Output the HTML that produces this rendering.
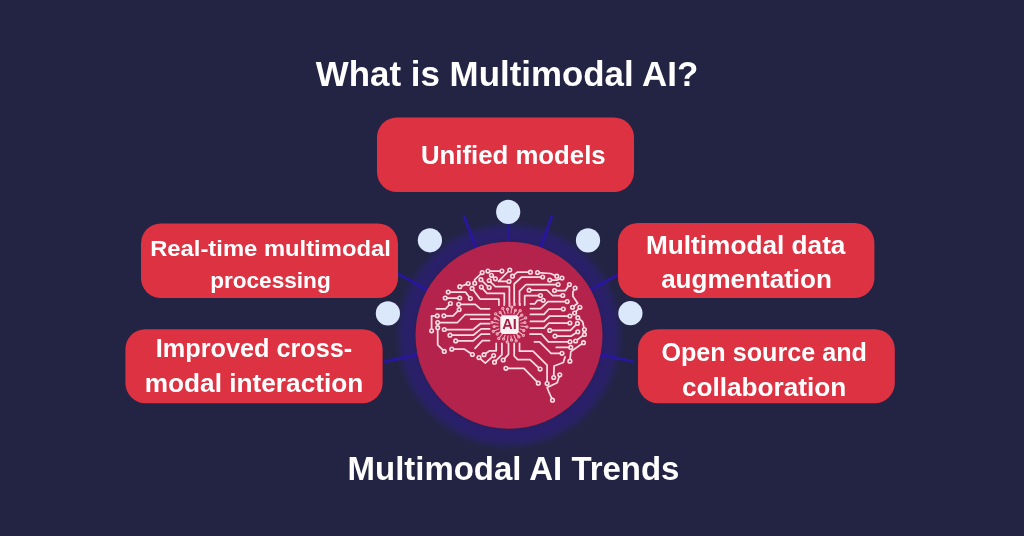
<!DOCTYPE html>
<html><head><meta charset="utf-8"><style>
html,body{margin:0;padding:0;background:#232444;width:1024px;height:536px;overflow:hidden}
svg{display:block;filter:blur(0.35px)}
text{font-family:"Liberation Sans",sans-serif;font-weight:bold}
</style></head><body>
<svg width="1024" height="536" viewBox="0 0 1024 536">
<rect width="1024" height="536" fill="#232444"/>
<defs><radialGradient id="halo" cx="509" cy="335.3" r="115" gradientUnits="userSpaceOnUse"><stop offset="0.81" stop-color="#28205c"/><stop offset="0.85" stop-color="#2a1f6b"/><stop offset="0.92" stop-color="#292166"/><stop offset="1" stop-color="#232444"/></radialGradient></defs>
<circle cx="509" cy="335.3" r="115" fill="url(#halo)"/>
<line x1="421.0" y1="354.0" x2="384.3" y2="361.8" stroke="#2916a0" stroke-width="3.1" stroke-opacity="0.95"/>
<line x1="430.3" y1="291.7" x2="397.5" y2="273.5" stroke="#2916a0" stroke-width="3.1" stroke-opacity="0.95"/>
<line x1="477.2" y1="251.1" x2="463.9" y2="216.0" stroke="#2916a0" stroke-width="3.1" stroke-opacity="0.95"/>
<line x1="539.5" y1="250.6" x2="552.2" y2="215.3" stroke="#2916a0" stroke-width="3.1" stroke-opacity="0.95"/>
<line x1="587.6" y1="291.5" x2="620.4" y2="273.3" stroke="#2916a0" stroke-width="3.1" stroke-opacity="0.95"/>
<line x1="597.1" y1="353.9" x2="633.8" y2="361.6" stroke="#2916a0" stroke-width="3.1" stroke-opacity="0.95"/>
<line x1="509" y1="245.3" x2="509" y2="223.3" stroke="#2916a0" stroke-width="2.2" stroke-opacity="0.8"/>
<rect x="377" y="117.5" width="257.0" height="74.5" rx="20" fill="#dc3242"/>
<rect x="141" y="223.4" width="257.0" height="74.7" rx="20" fill="#dc3242"/>
<rect x="125.4" y="329.2" width="257.2" height="74.0" rx="20" fill="#dc3242"/>
<rect x="618" y="223" width="256.4" height="75.1" rx="20" fill="#dc3242"/>
<rect x="638" y="329.2" width="256.8" height="74.0" rx="20" fill="#dc3242"/>
<circle cx="429.9" cy="240.3" r="12.1" fill="#dbe7fb"/>
<circle cx="387.9" cy="313.4" r="12.1" fill="#dbe7fb"/>
<circle cx="508.2" cy="211.9" r="12.1" fill="#dbe7fb"/>
<circle cx="588.0" cy="240.4" r="12.1" fill="#dbe7fb"/>
<circle cx="630.4" cy="313.2" r="12.1" fill="#dbe7fb"/>
<circle cx="509" cy="335.3" r="93.5" fill="#b4234b"/>
<g fill="none" stroke="#f9dde3" stroke-width="1.75" stroke-linejoin="round" stroke-linecap="round">
<polyline points="487.9,271.1 501.9,271.1"/>
<polyline points="509.8,270.0 498.4,281.4 509.0,281.4"/>
<polyline points="482.2,272.6 474.7,279.7 474.7,283.2"/>
<polyline points="491.4,275.3 495.4,278.8"/>
<polyline points="480.9,279.7 489.2,287.6"/>
<polyline points="489.2,280.5 495.4,286.7 509.4,286.7 509.4,306.0"/>
<polyline points="468.2,283.6 459.8,286.7"/>
<polyline points="472.1,288.4 480.0,299.0 498.9,299.0 498.9,305.0"/>
<polyline points="481.3,287.1 487.0,293.3 504.3,293.3 504.3,305.0"/>
<polyline points="448.2,292.1 465.5,292.1 470.4,298.5"/>
<polyline points="445.2,298.0 459.7,298.0"/>
<polyline points="450.4,303.5 445.6,308.8 436.4,308.8"/>
<polyline points="458.7,304.3 475.3,304.3 480.4,308.8 489.6,308.8"/>
<polyline points="459.2,309.6 453.1,315.8 443.9,315.8"/>
<polyline points="437.3,315.8 431.6,315.8 431.6,330.8"/>
<polyline points="437.7,322.5 457.5,322.5 465.2,314.5 489.6,314.5"/>
<polyline points="470.6,319.2 489.6,319.2"/>
<polyline points="437.7,327.7 437.7,344.8 444.3,351.4"/>
<polyline points="444.3,329.5 473.2,329.5 480.3,323.7 489.6,323.7"/>
<polyline points="450.0,335.2 473.2,335.2 481.1,328.9 489.6,328.9"/>
<polyline points="455.7,340.9 473.2,340.9 481.1,334.2 489.6,334.2"/>
<polyline points="475.0,348.3 482.3,340.6 489.6,340.6"/>
<polyline points="451.8,349.2 464.5,349.2 472.4,354.5"/>
<polyline points="479.0,357.6 485.3,363.1 493.6,355.6"/>
<polyline points="484.0,354.7 489.6,350.8 496.2,350.8 496.2,343.3"/>
<polyline points="494.5,362.2 501.9,354.7 501.9,343.3"/>
<polyline points="503.2,360.0 508.5,354.3 508.5,343.3"/>
<polyline points="514.2,343.3 514.2,356.0 517.7,359.6 530.0,359.6 540.1,369.1"/>
<polyline points="519.5,343.3 519.5,351.2 533.0,351.2 547.1,365.2 547.1,383.6"/>
<polyline points="505.9,368.3 523.9,368.3 538.3,383.2"/>
<polyline points="559.8,374.8 557.2,382.7 547.1,387.5 548.9,392.0 552.5,400.2"/>
<polyline points="565.1,356.8 563.3,362.5 554.1,366.0 553.7,377.5"/>
<polyline points="583.5,342.7 570.8,351.6 569.9,361.2"/>
<polyline points="534.4,341.8 539.6,341.8 551.1,353.3 562.0,353.3"/>
<polyline points="556.3,347.4 570.8,347.4"/>
<polyline points="575.6,341.0 584.4,334.4"/>
<polyline points="577.8,317.7 582.6,321.7 584.4,329.6"/>
<polyline points="530.0,334.0 541.4,334.0 548.4,341.8 570.0,341.8"/>
<polyline points="555.0,336.1 571.2,336.1 577.8,331.8"/>
<polyline points="549.7,330.4 570.4,330.4 577.4,323.4"/>
<polyline points="530.4,328.2 544.0,328.2 548.9,323.0 569.9,323.0"/>
<polyline points="530.4,321.4 544.0,321.4 549.7,316.0 569.9,316.0"/>
<polyline points="530.4,314.4 544.0,314.4 548.9,309.0 563.3,309.0"/>
<polyline points="530.4,308.6 540.5,308.6 547.9,301.6 567.2,301.6"/>
<polyline points="579.9,307.3 574.6,313.0"/>
<polyline points="575.1,288.0 572.9,291.9 572.9,296.3 577.7,303.3 572.5,307.3"/>
<polyline points="554.5,290.6 565.4,290.6 569.4,284.5"/>
<polyline points="529.1,290.2 547.1,290.2 552.4,295.5 562.8,295.5"/>
<polyline points="540.5,295.5 524.7,295.5 524.7,305.0"/>
<polyline points="543.2,300.3 537.5,300.3 534.8,303.8 530.4,303.8"/>
<polyline points="558.1,284.5 526.0,284.5 519.5,291.1 519.5,305.0"/>
<polyline points="562.0,278.0 556.8,280.1 549.7,280.1"/>
<polyline points="537.5,272.6 550.6,273.5 556.8,276.2"/>
<polyline points="542.7,277.0 521.7,277.0 514.2,284.0 514.2,305.0"/>
<polyline points="512.5,276.2 517.3,272.2 530.4,272.2"/>
</g>
<g fill="#b4234b" stroke="#f9dde3" stroke-width="1.6">
<circle cx="487.9" cy="271.1" r="1.8"/>
<circle cx="501.9" cy="271.1" r="1.8"/>
<circle cx="509.8" cy="270.0" r="1.8"/>
<circle cx="509.0" cy="281.4" r="1.8"/>
<circle cx="482.2" cy="272.6" r="1.8"/>
<circle cx="474.7" cy="283.2" r="1.8"/>
<circle cx="491.4" cy="275.3" r="1.8"/>
<circle cx="495.4" cy="278.8" r="1.8"/>
<circle cx="480.9" cy="279.7" r="1.8"/>
<circle cx="489.2" cy="287.6" r="1.8"/>
<circle cx="489.2" cy="280.5" r="1.8"/>
<circle cx="468.2" cy="283.6" r="1.8"/>
<circle cx="459.8" cy="286.7" r="1.8"/>
<circle cx="472.1" cy="288.4" r="1.8"/>
<circle cx="481.3" cy="287.1" r="1.8"/>
<circle cx="448.2" cy="292.1" r="1.8"/>
<circle cx="470.4" cy="298.5" r="1.8"/>
<circle cx="445.2" cy="298.0" r="1.8"/>
<circle cx="459.7" cy="298.0" r="1.8"/>
<circle cx="450.4" cy="303.5" r="1.8"/>
<circle cx="458.7" cy="304.3" r="1.8"/>
<circle cx="459.2" cy="309.6" r="1.8"/>
<circle cx="443.9" cy="315.8" r="1.8"/>
<circle cx="437.3" cy="315.8" r="1.8"/>
<circle cx="431.6" cy="330.8" r="1.8"/>
<circle cx="437.7" cy="322.5" r="1.8"/>
<circle cx="437.7" cy="327.7" r="1.8"/>
<circle cx="444.3" cy="351.4" r="1.8"/>
<circle cx="444.3" cy="329.5" r="1.8"/>
<circle cx="450.0" cy="335.2" r="1.8"/>
<circle cx="455.7" cy="340.9" r="1.8"/>
<circle cx="451.8" cy="349.2" r="1.8"/>
<circle cx="472.4" cy="354.5" r="1.8"/>
<circle cx="479.0" cy="357.6" r="1.8"/>
<circle cx="493.6" cy="355.6" r="1.8"/>
<circle cx="484.0" cy="354.7" r="1.8"/>
<circle cx="494.5" cy="362.2" r="1.8"/>
<circle cx="503.2" cy="360.0" r="1.8"/>
<circle cx="540.1" cy="369.1" r="1.8"/>
<circle cx="547.1" cy="383.6" r="1.8"/>
<circle cx="505.9" cy="368.3" r="1.8"/>
<circle cx="538.3" cy="383.2" r="1.8"/>
<circle cx="559.8" cy="374.8" r="1.8"/>
<circle cx="552.5" cy="400.2" r="1.8"/>
<circle cx="553.7" cy="377.5" r="1.8"/>
<circle cx="583.5" cy="342.7" r="1.8"/>
<circle cx="569.9" cy="361.2" r="1.8"/>
<circle cx="562.0" cy="353.3" r="1.8"/>
<circle cx="570.8" cy="347.4" r="1.8"/>
<circle cx="575.6" cy="341.0" r="1.8"/>
<circle cx="584.4" cy="334.4" r="1.8"/>
<circle cx="577.8" cy="317.7" r="1.8"/>
<circle cx="584.4" cy="329.6" r="1.8"/>
<circle cx="570.0" cy="341.8" r="1.8"/>
<circle cx="555.0" cy="336.1" r="1.8"/>
<circle cx="577.8" cy="331.8" r="1.8"/>
<circle cx="549.7" cy="330.4" r="1.8"/>
<circle cx="577.4" cy="323.4" r="1.8"/>
<circle cx="569.9" cy="323.0" r="1.8"/>
<circle cx="569.9" cy="316.0" r="1.8"/>
<circle cx="563.3" cy="309.0" r="1.8"/>
<circle cx="567.2" cy="301.6" r="1.8"/>
<circle cx="579.9" cy="307.3" r="1.8"/>
<circle cx="574.6" cy="313.0" r="1.8"/>
<circle cx="575.1" cy="288.0" r="1.8"/>
<circle cx="572.5" cy="307.3" r="1.8"/>
<circle cx="554.5" cy="290.6" r="1.8"/>
<circle cx="569.4" cy="284.5" r="1.8"/>
<circle cx="529.1" cy="290.2" r="1.8"/>
<circle cx="562.8" cy="295.5" r="1.8"/>
<circle cx="540.5" cy="295.5" r="1.8"/>
<circle cx="543.2" cy="300.3" r="1.8"/>
<circle cx="558.1" cy="284.5" r="1.8"/>
<circle cx="562.0" cy="278.0" r="1.8"/>
<circle cx="549.7" cy="280.1" r="1.8"/>
<circle cx="537.5" cy="272.6" r="1.8"/>
<circle cx="556.8" cy="276.2" r="1.8"/>
<circle cx="542.7" cy="277.0" r="1.8"/>
<circle cx="512.5" cy="276.2" r="1.8"/>
<circle cx="530.4" cy="272.2" r="1.8"/>
</g>
<g stroke="#eeb0c0" stroke-width="1.1" fill="none">
<line x1="520.4" y1="326.0" x2="526.9" y2="326.9"/>
<circle cx="526.9" cy="326.9" r="1.1"/>
<line x1="519.7" y1="328.8" x2="523.8" y2="330.5"/>
<circle cx="523.8" cy="330.5" r="1.1"/>
<line x1="518.2" y1="331.3" x2="523.4" y2="335.3"/>
<circle cx="523.4" cy="335.3" r="1.1"/>
<line x1="516.2" y1="333.3" x2="518.9" y2="336.9"/>
<circle cx="518.9" cy="336.9" r="1.1"/>
<line x1="513.7" y1="334.8" x2="516.2" y2="340.8"/>
<circle cx="516.2" cy="340.8" r="1.1"/>
<line x1="510.9" y1="335.5" x2="511.5" y2="340.0"/>
<circle cx="511.5" cy="340.0" r="1.1"/>
<line x1="508.1" y1="335.5" x2="507.2" y2="342.0"/>
<circle cx="507.2" cy="342.0" r="1.1"/>
<line x1="505.3" y1="334.8" x2="503.6" y2="338.9"/>
<circle cx="503.6" cy="338.9" r="1.1"/>
<line x1="502.8" y1="333.3" x2="498.8" y2="338.5"/>
<circle cx="498.8" cy="338.5" r="1.1"/>
<line x1="500.8" y1="331.3" x2="497.2" y2="334.0"/>
<circle cx="497.2" cy="334.0" r="1.1"/>
<line x1="499.3" y1="328.8" x2="493.3" y2="331.3"/>
<circle cx="493.3" cy="331.3" r="1.1"/>
<line x1="498.6" y1="326.0" x2="494.1" y2="326.6"/>
<circle cx="494.1" cy="326.6" r="1.1"/>
<line x1="498.6" y1="323.2" x2="492.1" y2="322.3"/>
<circle cx="492.1" cy="322.3" r="1.1"/>
<line x1="499.3" y1="320.4" x2="495.2" y2="318.7"/>
<circle cx="495.2" cy="318.7" r="1.1"/>
<line x1="500.8" y1="317.9" x2="495.6" y2="313.9"/>
<circle cx="495.6" cy="313.9" r="1.1"/>
<line x1="502.8" y1="315.9" x2="500.1" y2="312.3"/>
<circle cx="500.1" cy="312.3" r="1.1"/>
<line x1="505.3" y1="314.4" x2="502.8" y2="308.4"/>
<circle cx="502.8" cy="308.4" r="1.1"/>
<line x1="508.1" y1="313.7" x2="507.5" y2="309.2"/>
<circle cx="507.5" cy="309.2" r="1.1"/>
<line x1="510.9" y1="313.7" x2="511.8" y2="307.2"/>
<circle cx="511.8" cy="307.2" r="1.1"/>
<line x1="513.7" y1="314.4" x2="515.4" y2="310.3"/>
<circle cx="515.4" cy="310.3" r="1.1"/>
<line x1="516.2" y1="315.9" x2="520.2" y2="310.7"/>
<circle cx="520.2" cy="310.7" r="1.1"/>
<line x1="518.2" y1="317.9" x2="521.8" y2="315.2"/>
<circle cx="521.8" cy="315.2" r="1.1"/>
<line x1="519.7" y1="320.4" x2="525.7" y2="317.9"/>
<circle cx="525.7" cy="317.9" r="1.1"/>
<line x1="520.4" y1="323.2" x2="524.9" y2="322.6"/>
<circle cx="524.9" cy="322.6" r="1.1"/>
<line x1="498.9" y1="303" x2="498.9" y2="306"/>
<line x1="504.1" y1="303" x2="504.1" y2="306"/>
<line x1="509.8" y1="303" x2="509.8" y2="306"/>
<line x1="515.1" y1="303" x2="515.1" y2="306"/>
<line x1="520.4" y1="303" x2="520.4" y2="306"/>
</g>
<rect x="500.3" y="315.3" width="18.4" height="18.6" rx="3" fill="#fdf3f5"/>
<text x="509.6" y="328.8" font-family="Liberation Sans" font-weight="bold" font-size="14.5" fill="#a81f45" text-anchor="middle">AI</text>
<text transform="translate(315.87,85.90) scale(1.0086,1)" font-size="34.6" fill="#ffffff">What is Multimodal AI?</text>
<text transform="translate(347.58,479.70) scale(0.9897,1)" font-size="33.3" fill="#ffffff">Multimodal AI Trends</text>
<text transform="translate(420.90,163.80) scale(0.9770,1)" font-size="26.4" fill="#ffffff">Unified models</text>
<text transform="translate(150.15,255.90) scale(1.0489,1)" font-size="22.7" fill="#ffffff">Real-time multimodal</text>
<text transform="translate(210.13,288.00) scale(0.9962,1)" font-size="22.7" fill="#ffffff">processing</text>
<text transform="translate(155.80,356.60) scale(1.0065,1)" font-size="25.1" fill="#ffffff">Improved cross-</text>
<text transform="translate(144.79,392.10) scale(1.0446,1)" font-size="25.1" fill="#ffffff">modal interaction</text>
<text transform="translate(645.98,253.90) scale(1.0362,1)" font-size="25.3" fill="#ffffff">Multimodal data</text>
<text transform="translate(661.13,288.10) scale(1.0300,1)" font-size="25.3" fill="#ffffff">augmentation</text>
<text transform="translate(661.40,361.20) scale(0.9870,1)" font-size="25.5" fill="#ffffff">Open source and</text>
<text transform="translate(681.91,395.70) scale(1.0275,1)" font-size="25.5" fill="#ffffff">collaboration</text>
</svg>
</body></html>
